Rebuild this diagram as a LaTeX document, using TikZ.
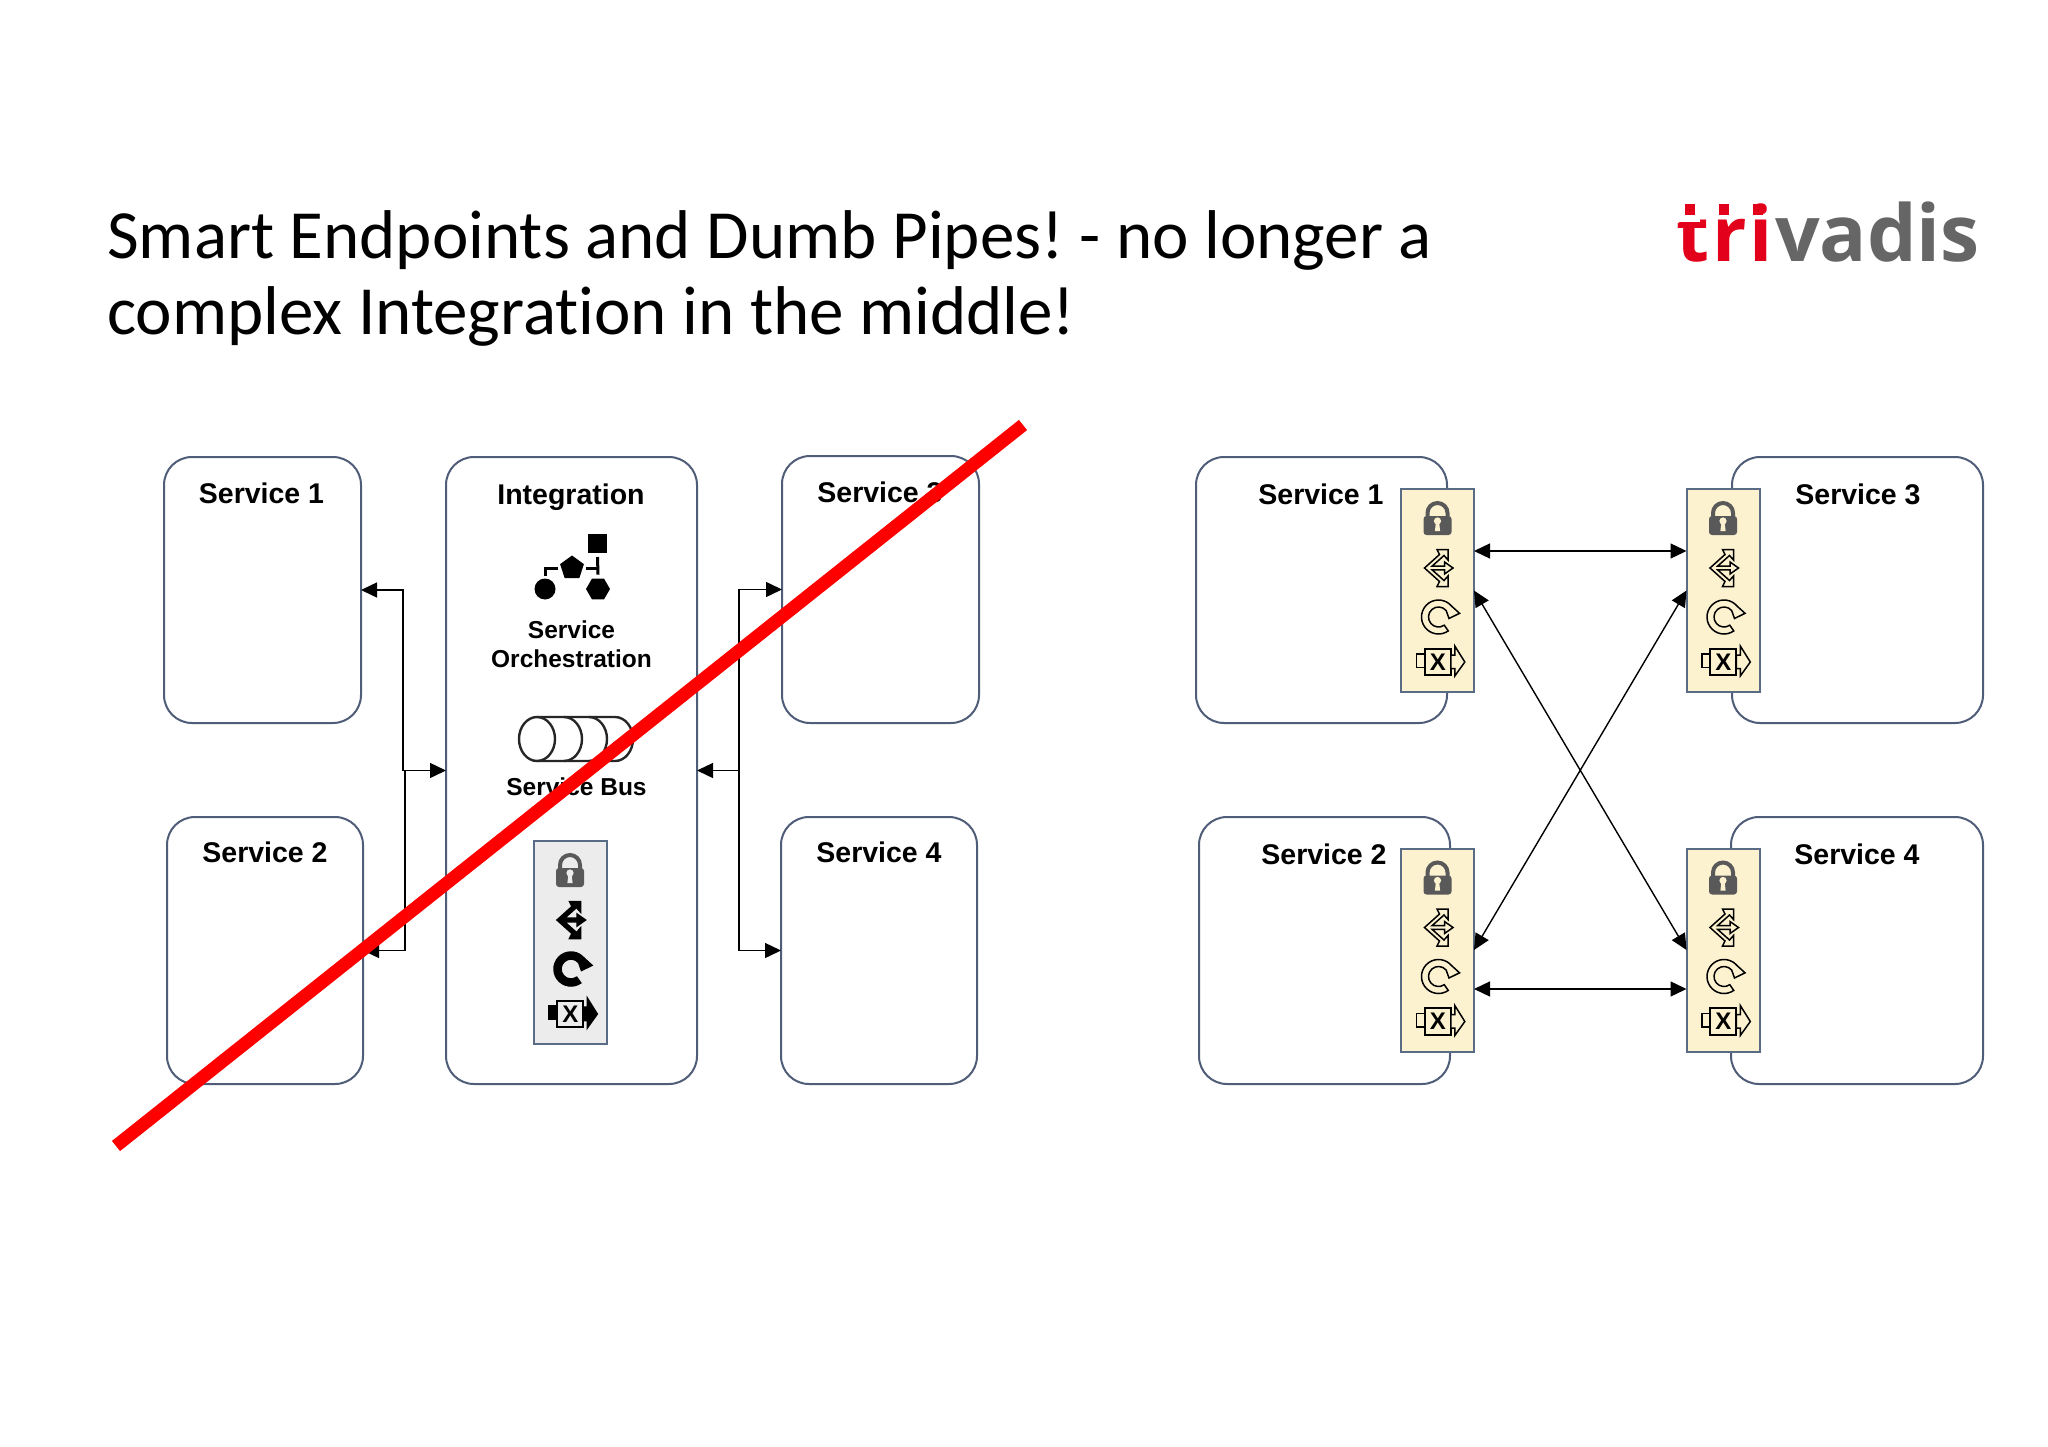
\documentclass[tikz,border=0pt]{standalone}
\usepackage{xcolor}
\usepackage{fontspec}
\usepackage{tikz}
\usetikzlibrary{arrows.meta, calc, shapes.geometric}
\setmainfont{Liberation Sans}
\newfontfamily\titlefont[Ligatures=NoCommon]{Carlito}
\newfontfamily\logofont{Open Sans}
\newfontfamily\logotrifont[LetterSpace=4]{Open Sans}
\definecolor{boxline}{HTML}{4F5D78}
\definecolor{barline}{HTML}{5A6B85}
\definecolor{barcream}{HTML}{FDF2D0}
\definecolor{bargrey}{HTML}{ECECEC}
\definecolor{lockgrey}{HTML}{595959}
\definecolor{logored}{HTML}{E2001A}
\definecolor{logogrey}{HTML}{666666}

% one bar of four icons, origin at the top centre of the bar
% #1 fill of the icons, #2 colour of the bar behind them
\tikzset{pics/gatestack/.style 2 args={code={
	\begin{scope}[shift={(0,29)}]
		\fill[lockgrey, rounded corners=3] (-14,-2) rectangle (14,17);
		\draw[lockgrey, line width=4] (-10,0) -- (-10,-5) arc (180:360:10) -- (10,0);
		\fill[#2] (0,3) circle (3.6);
		\fill[#2] (-1.6,4) -- (1.6,4) -- (2.6,13) -- (-2.6,13) -- cycle;
	\end{scope}
	\begin{scope}[shift={(1,79)}]
		\draw[fill=#1, line width=1.5, line join=miter] (-14,0) -- (1,-13.5) -- (-1.5,-18.5) -- (9.5,-18.5) -- (9.5,-8) -- (5.5,-12.5)
			-- (-6.5,-1.8) -- (6,-1.8) -- (6,-6) -- (14.5,0) -- (6,6) -- (6,1.8) -- (-6.5,1.8)
			-- (5.5,12.5) -- (9.5,8) -- (9.5,18.5) -- (-1.5,18.5) -- (1,13.5) -- cycle;
	\end{scope}
	\begin{scope}[shift={(1,128)}]
		\draw[fill=#1, line width=1.5] (55:17) arc (55:320:17) -- (21,-3.7) -- (10.5,1.5) -- (320:10) arc (320:55:10) -- cycle;
	\end{scope}
	\begin{scope}[shift={(3,172)}]
		\draw[fill=#1, line width=1.5] (-24,-7) rectangle (-15.7,6.5);
		\draw[fill=#2, line width=2] (-15.7,-12.5) rectangle (10.3,14);
		\draw[fill=#1, line width=1.5] (10.3,-6) -- (14.3,-6) -- (14.3,-15) -- (24.3,1) -- (14.3,15) -- (14.3,7.5) -- (10.3,7.5) -- cycle;
		\node[font=\fontsize{24}{24}\selectfont\bfseries, inner sep=0] (x) at (-2.7,1) {X};
	\end{scope}
}}}

\begin{document}
\frenchspacing
\begin{tikzpicture}[x=1pt,y=-1pt,>={Triangle[length=16pt,width=15pt]},
		svc/.style={draw=boxline,line width=2,fill=white,rounded corners=28,inner sep=0,outer sep=0},
		bar/.style={draw=barline,line width=2,inner sep=0,outer sep=0,minimum width=73,minimum height=203},
		svclabel/.style={font=\fontsize{28.5}{34}\selectfont\bfseries,inner sep=0,anchor=base},
		sublabel/.style={font=\fontsize{24.5}{29}\selectfont\bfseries,inner sep=0,align=center},
		conn/.style={line width=1.4,black},
		orcshape/.style={fill=black,inner sep=0,outer sep=0},
		orcline/.style={line width=3,black},
		busline/.style={line width=2.4,black!85},
		logosq/.style={fill=logored}]
	\useasboundingbox (0,-1) rectangle (2048,1446);

	\node[font=\titlefont\fontsize{69}{76}\selectfont,inner sep=0,anchor=north west,align=left] (title) at (107,209)
		{Smart Endpoints and Dumb Pipes! - no longer a\\complex Integration in the middle!};

	\node[font=\logotrifont\fontsize{76}{76}\selectfont\bfseries,text=logored,inner sep=0,anchor=base west] (logotri) at (1676,261) {tri};
	\node[font=\logofont\fontsize{78.5}{76}\selectfont\bfseries,text=logogrey,inner sep=0,anchor=base west] (logovadis) at (1775,261) {vadis};
	\fill[white] (1680,214) rectangle (1700,221);
	\fill[logosq] (1685,203) rectangle (1695,214);
	\fill[logosq] (1719,203) rectangle (1729,214);
	\fill[logosq] (1753,203) rectangle (1763,214);

	% left side
	\node[svc,minimum width=197,minimum height=266] (s1) at (262.5,589) {};
	\node[svc,minimum width=196,minimum height=267] (s2) at (265,949.5) {};
	\node[svc,minimum width=251,minimum height=627] (integ) at (571.5,769.5) {};
	\node[svc,minimum width=197,minimum height=267] (s3) at (880.5,588.5) {};
	\node[svc,minimum width=196,minimum height=267] (s4) at (879,949.5) {};

	\node[svclabel] (s1t) at (261.5,502.5) {Service 1};
	\node[svclabel] (s2t) at (265,861.5) {Service 2};
	\node[svclabel] (s3t) at (880,501.5) {Service 3};
	\node[svclabel] (s4t) at (879,861.5) {Service 4};
	\node[svclabel] (integt) at (571,503.5) {Integration};

	\coordinate (jl1) at (403,769.5);
	\coordinate (jl2) at (405,769.5);
	\coordinate (jr) at (739,769.5);
	\draw[conn,<->] (s1.east) -| (jl1) -- (integ.west);
	\draw[conn,->] (jl2) |- (s2.east);
	\draw[conn,->] (jr) -- (integ.east);
	\draw[conn,->] (jr) |- (s3.west);
	\draw[conn,->] (jr) |- (s4.west);

	% service orchestration icon
	\node[orcshape,minimum size=19] (osq) at (597.5,542.5) {};
	\node[orcshape,regular polygon,regular polygon sides=5,minimum size=25] (opent) at (572,567) {};
	\node[orcshape,circle,minimum size=21] (ocirc) at (545,588) {};
	\node[orcshape,regular polygon,regular polygon sides=6,minimum size=24] (ohex) at (598,588) {};
	\draw[orcline] ([yshift=3]ocirc.north) |- ([xshift=-3]opent.west);
	\draw[orcline] ([xshift=3]opent.east) -- (ohex.north |- opent.east);
	\draw[orcline] ([yshift=-4]osq.south) -- ([yshift=4]ohex.north);
	\node[sublabel] (orct) at (571.5,643.5) {Service\\Orchestration};

	% service bus icon
	\draw[busline] (537,738) ellipse [x radius=18,y radius=22];
	\draw[busline] (537,716) -- (615,716) arc (-90:90:18 and 22) -- (537,760);
	\draw[busline] (564,716) arc (-90:90:18 and 22);
	\draw[busline] (589,716) arc (-90:90:18 and 22);
	\node[sublabel,anchor=base] (bust) at (576.5,794) {Service Bus};

	\node[bar,fill=bargrey] (gate) at (570,941.5) {};
	\pic (gatei) at (gate.north) {gatestack={black}{bargrey}};

	% right side
	\node[svc,minimum width=251,minimum height=266] (r1) at (1321.5,589) {};
	\node[svc,minimum width=251,minimum height=267] (r2) at (1324.5,949.5) {};
	\node[svc,minimum width=251,minimum height=266] (r3) at (1857.5,589) {};
	\node[svc,minimum width=252,minimum height=267] (r4) at (1857,949.5) {};

	\node[svclabel] (r1t) at (1321,503.5) {Service 1};
	\node[svclabel] (r2t) at (1324,863.5) {Service 2};
	\node[svclabel] (r3t) at (1858,503.5) {Service 3};
	\node[svclabel] (r4t) at (1857,863.5) {Service 4};

	\node[bar,fill=barcream] (b1) at (1437.5,589.5) {};
	\node[bar,fill=barcream] (b2) at (1437.5,949) {};
	\node[bar,fill=barcream] (b3) at (1723,589.5) {};
	\node[bar,fill=barcream] (b4) at (1723,949) {};
	\pic (b1i) at (b1.north) {gatestack={barcream}{barcream}};
	\pic (b2i) at (b2.north) {gatestack={barcream}{barcream}};
	\pic (b3i) at (b3.north) {gatestack={barcream}{barcream}};
	\pic (b4i) at (b4.north) {gatestack={barcream}{barcream}};

	\coordinate (p1) at (b1.east |- 0,550);
	\coordinate (p3) at (b3.west |- 0,550);
	\coordinate (p2) at (b2.east |- 0,988);
	\coordinate (p4) at (b4.west |- 0,988);
	\draw[conn,<->] (p1) -- (p3);
	\draw[conn,<->] (p2) -- (p4);
	\draw[conn,<->] (b1.east) -- (b4.west);
	\draw[conn,<->] (b2.east) -- (b3.west);

	% the strike through the left side
	\coordinate (strikea) at (116,1145);
	\coordinate (strikeb) at (1023,424);
	\draw[red,line width=13] (strikea) -- (strikeb);
\end{tikzpicture}
\end{document}
